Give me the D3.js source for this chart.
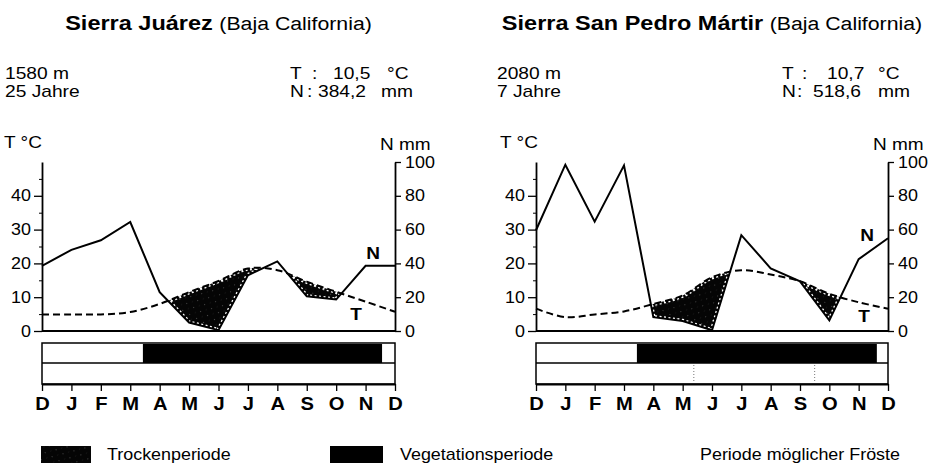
<!DOCTYPE html>
<html>
<head>
<meta charset="utf-8">
<script src="https://cdn.jsdelivr.net/npm/d3@7/dist/d3.min.js"></script>
<style>
  html, body { margin: 0; padding: 0; background: #fff; }
  svg { display: block; }
  text { font-family: "Liberation Sans", Arial, sans-serif; fill: #000; }
</style>
</head>
<body>
<svg id="chart" width="937" height="464"></svg>
<script>
// Month labels along the climate diagram (December repeated at both ends)
const months = ["D", "J", "F", "M", "A", "M", "J", "J", "A", "S", "O", "N", "D"];

// Sierra Juárez (Baja California): precipitation N (mm) and temperature T (°C)
const juarezN = [38.6, 48.0, 53.7, 64.5, 23.0, 5.0, 0.5, 33.0, 41.2, 20.5, 18.6, 38.6, 38.6];
const juarezT = [4.9, 4.9, 4.9, 5.6, 8.0, 11.5, 14.8, 18.5, 18.0, 14.6, 11.6, 8.7, 5.7];

// Sierra San Pedro Mártir (Baja California)
const martirN = [59.6, 98.4, 64.7, 98.0, 8.2, 5.9, 0.4, 56.7, 37.1, 29.4, 6.3, 42.5, 54.9];
const martirT = [6.6, 4.1, 4.9, 5.8, 8.0, 10.5, 15.9, 18.0, 16.7, 14.7, 11.0, 8.5, 6.6];

// Vegetation period (start, end) in months counted from the left December tick
const juarezVeg = [3.43, 11.56];
const martirVeg = [3.44, 11.62];

// Frost period markers (month positions) in the lower bar
const juarezFrost = [];
const martirFrost = [5.38, 9.5];

// Station details
const titles = ["Sierra Juárez", "Sierra San Pedro Mártir"];
const region = "(Baja California)";
const altitudes = ["1580 m", "2080 m"];
const years = ["25 Jahre", "7 Jahre"];
const meanT = ["10,5", "10,7"];
const sumN = ["384,2", "518,6"];

// Axis tick values
const tempTicks = [0, 10, 20, 30, 40];
const tempMinor = [5, 15, 25, 35, 45];
const precTicks = [0, 20, 40, 60, 80, 100];

const legendLabels = ["Trockenperiode", "Vegetationsperiode", "Periode möglicher Fröste"];

const SX = 1.12; // horizontal stretch of the typeface
const svg = d3.select("#chart");
const defs = svg.append("defs");

// stippled black fill for the dry period
const pat = defs.append("pattern")
  .attr("id", "stipple").attr("width", 8).attr("height", 8)
  .attr("patternUnits", "userSpaceOnUse")
  .attr("patternTransform", "rotate(30)");
pat.append("rect").attr("width", 8).attr("height", 8).attr("fill", "#050505");
pat.append("circle").attr("cx", 1.5).attr("cy", 1.5).attr("r", 0.5).attr("fill", "#fff").attr("opacity", 0.35);
pat.append("circle").attr("cx", 5.5).attr("cy", 5).attr("r", 0.4).attr("fill", "#fff").attr("opacity", 0.2);

function label(g, x, y, str, opt = {}) {
  return g.append("text")
    .attr("transform", `translate(${x},${y}) scale(${opt.sx || SX},1)`)
    .attr("text-anchor", opt.anchor || "start")
    .attr("font-size", opt.size || 18)
    .attr("font-weight", opt.weight || "normal")
    .text(str);
}

const layout = [
  { x0: 42, x1: 395, hdr: { alt: 5, tL: 290, tC: 312, tV: 333, tU: 387, nL: 290, nC: 307, nV: 318, nU: 381 },
    nLbl: [373, 259], tLbl: [356, 320], axT: 4, axN: 380 },
  { x0: 536, x1: 888, hdr: { alt: 497, tL: 782, tC: 802, tV: 827, tU: 878, nL: 782, nC: 797, nV: 813, nU: 878 },
    nLbl: [867, 241], tLbl: [864, 322], axT: 500, axN: 873 }
];
const stations = [
  { N: juarezN, T: juarezT, veg: juarezVeg, frost: juarezFrost },
  { N: martirN, T: martirT, veg: martirVeg, frost: martirFrost }
];

const yTop = 162, yBase = 331;
const barTop = 343, barMid = 363, barBot = 384;

stations.forEach((st, i) => {
  const L = layout[i];
  const g = svg.append("g");
  const x = d3.scaleLinear().domain([0, 12]).range([L.x0, L.x1]);
  const yT = d3.scaleLinear().domain([0, 50]).range([yBase, yTop]);
  const yN = d3.scaleLinear().domain([0, 100]).range([yBase, yTop]);

  // headings
  const cx = (L.x0 + L.x1) / 2;
  const t = g.append("text")
    .attr("transform", `translate(${cx},30) scale(${SX},1)`)
    .attr("text-anchor", "middle");
  t.append("tspan").attr("font-size", 21).attr("font-weight", "bold").text(titles[i] + " ");
  t.append("tspan").attr("font-size", 19).text(region);

  const h = L.hdr;
  const ho = { size: 16, sx: 1.2 };
  label(g, h.alt, 79, altitudes[i], ho);
  label(g, h.alt, 96.5, years[i], ho);
  label(g, h.tL, 79, "T", ho);
  label(g, h.tC, 79, ":", ho);
  label(g, h.tV, 79, meanT[i], ho);
  label(g, h.tU, 79, "°C", ho);
  label(g, h.nL, 96.5, "N", ho);
  label(g, h.nC, 96.5, ":", ho);
  label(g, h.nV, 96.5, sumN[i], ho);
  label(g, h.nU, 96.5, "mm", ho);

  label(g, L.axT, 148, "T °C", { size: 17 });
  label(g, L.axN, 150, "N mm", { size: 17 });

  // dry period: below the temperature curve and above the precipitation line
  const idx = d3.range(months.length);
  const aboveN = d3.area().x(d => x(d)).y0(yTop - 20).y1(d => yN(st.N[d]));
  const underT = d3.area().curve(d3.curveCatmullRom.alpha(0.5))
    .x(d => x(d)).y0(yBase).y1(d => yT(st.T[d]));
  defs.append("clipPath").attr("id", `aboveN${i}`).append("path").attr("d", aboveN(idx));
  defs.append("clipPath").attr("id", `underT${i}`).append("path").attr("d", underT(idx));

  g.append("path").attr("d", underT(idx))
    .attr("fill", "url(#stipple)")
    .attr("clip-path", `url(#aboveN${i})`);

  const tLine = d3.line().curve(d3.curveCatmullRom.alpha(0.5)).x(d => x(d)).y(d => yT(st.T[d]));
  const nLine = d3.line().x(d => x(d)).y(d => yN(st.N[d]));

  // white speckled rim inside the dry area
  const rim = g.append("g").attr("clip-path", `url(#aboveN${i})`)
    .append("g").attr("clip-path", `url(#underT${i})`);
  [tLine(idx), nLine(idx)].forEach(dd => rim.append("path").attr("d", dd)
    .attr("fill", "none").attr("stroke", "#fff").attr("stroke-width", 4.5)
    .attr("stroke-dasharray", "2,2.5"));

  g.append("path").attr("d", tLine(idx))
    .attr("fill", "none").attr("stroke", "#000").attr("stroke-width", 2)
    .attr("stroke-dasharray", "7,4");
  g.append("path").attr("d", nLine(idx))
    .attr("fill", "none").attr("stroke", "#000").attr("stroke-width", 2)
    .attr("stroke-linejoin", "miter");

  label(g, L.nLbl[0], L.nLbl[1], "N", { anchor: "middle", size: 17, weight: "bold" });
  label(g, L.tLbl[0], L.tLbl[1], "T", { anchor: "middle", size: 17, weight: "bold" });

  // axes
  const styleAxis = (sel) => {
    sel.select(".domain").attr("stroke", "#000").attr("stroke-width", 1.8);
    sel.selectAll(".tick line").attr("stroke", "#000").attr("stroke-width", 1.3);
    sel.selectAll(".tick text").attr("fill", "#000")
      .attr("font-family", "Liberation Sans, Arial, sans-serif");
  };
  const stretchText = (sel) => {
    sel.selectAll(".tick text").each(function () {
      const el = d3.select(this);
      const tx = +el.attr("x") || 0;
      el.attr("x", tx / SX).attr("transform", `scale(${SX},1)`);
    });
  };

  const axL = g.append("g").attr("transform", `translate(${L.x0},0)`)
    .call(d3.axisLeft(yT).tickValues(tempTicks).tickSize(8).tickSizeOuter(0).tickPadding(3));
  axL.selectAll(".tick text").attr("font-size", 16);
  styleAxis(axL); stretchText(axL);
  const axLm = g.append("g").attr("transform", `translate(${L.x0},0)`)
    .call(d3.axisLeft(yT).tickValues(tempMinor).tickSize(3).tickFormat(""));
  axLm.select(".domain").remove();
  axLm.selectAll(".tick line").attr("stroke", "#000").attr("stroke-width", 1);

  const axR = g.append("g").attr("transform", `translate(${L.x1},0)`)
    .call(d3.axisRight(yN).tickValues(precTicks).tickSize(6).tickSizeOuter(0).tickPadding(4));
  axR.selectAll(".tick text").attr("font-size", 16);
  styleAxis(axR); stretchText(axR);

  // zero line across the plot
  g.append("line").attr("x1", L.x0).attr("x2", L.x1).attr("y1", yBase).attr("y2", yBase)
    .attr("stroke", "#000").attr("stroke-width", 1.8);

  // vegetation and frost bars
  g.append("rect").attr("x", x(st.veg[0])).attr("y", barTop + 1)
    .attr("width", x(st.veg[1]) - x(st.veg[0])).attr("height", barMid - barTop - 1)
    .attr("fill", "#000");
  g.append("rect").attr("x", L.x0).attr("y", barTop)
    .attr("width", L.x1 - L.x0).attr("height", barBot - barTop)
    .attr("fill", "none").attr("stroke", "#000").attr("stroke-width", 1.5);
  g.append("line").attr("x1", L.x0).attr("x2", L.x1).attr("y1", barMid).attr("y2", barMid)
    .attr("stroke", "#000").attr("stroke-width", 1.5);
  st.frost.forEach(m => g.append("line")
    .attr("x1", x(m)).attr("x2", x(m)).attr("y1", barMid + 2).attr("y2", barBot - 1)
    .attr("stroke", "#777").attr("stroke-width", 1).attr("stroke-dasharray", "1,2"));

  const axB = g.append("g").attr("transform", `translate(0,${barBot})`)
    .call(d3.axisBottom(x).tickValues(idx).tickFormat(d => months[d])
      .tickSize(7).tickSizeOuter(0).tickPadding(6));
  axB.selectAll(".tick text").attr("font-size", 18).attr("font-weight", "bold");
  styleAxis(axB); stretchText(axB);
});

// legend
const lg = svg.append("g");
lg.append("rect").attr("x", 41).attr("y", 446).attr("width", 50).attr("height", 17).attr("fill", "url(#stipple)");
label(lg, 107, 460, legendLabels[0], { size: 16 });
lg.append("rect").attr("x", 330).attr("y", 446).attr("width", 53).attr("height", 17).attr("fill", "#000");
label(lg, 400, 460, legendLabels[1], { size: 16 });
label(lg, 700, 460, legendLabels[2], { size: 16 });
</script>
</body>
</html>
